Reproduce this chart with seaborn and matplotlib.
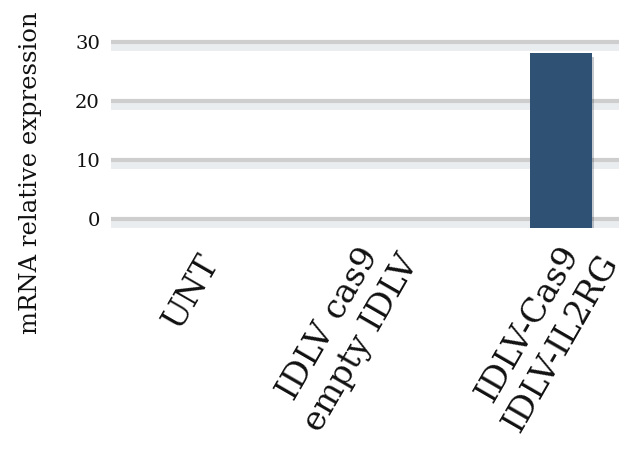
import matplotlib
matplotlib.use("Agg")
import matplotlib.pyplot as plt
import matplotlib.patheffects as pe
from matplotlib.transforms import ScaledTranslation
import seaborn as sns

# Data
categories = ["UNT", "IDLV cas9\nempty IDLV", "IDLV-Cas9\nIDLV-IL2RG"]
values = [0.0, 0.0, 28.1]
y_ticks = [0, 10, 20, 30]
y_label = "mRNA relative expression"

AXIS_FLOOR = -1.5

sns.set_theme(style="white")
plt.rcParams["font.family"] = ["DejaVu Serif"]

fig = plt.figure(figsize=(6.19, 4.54), dpi=100)
W, H = 619, 454
ax = fig.add_axes([111 / W, (H - 228) / H, (621 - 111) / W, 192 / H])

# bars rise from the axis floor; empty groups draw nothing
heights = [v - AXIS_FLOOR if v > 0 else 0.0 for v in values]
sns.barplot(x=categories, y=heights, ax=ax, color="#2f5173", saturation=1,
            width=0.31, errorbar=None, bottom=AXIS_FLOOR, linewidth=0)
for bar in ax.patches:
    bar.set_path_effects([
        pe.SimplePatchShadow(offset=(1.5, -3), shadow_rgbFace="#1c2b3a", alpha=0.25),
        pe.Normal(),
    ])

ax.set_xlim(-0.25, 2.3)
ax.set_ylim(AXIS_FLOOR, 31)
ax.set_yticks(y_ticks)
ax.set_yticklabels([str(t) for t in y_ticks], fontsize=14)

ax.grid(axis="y", color="#cecece", linewidth=3.0)
ax.set_axisbelow(True)
for gl in ax.yaxis.get_gridlines():
    gl.set_path_effects([
        pe.SimpleLineShadow(offset=(0, -3.5), shadow_color="#9aa6b5", alpha=0.2,
                            linewidth=5),
        pe.Normal(),
    ])

for s in ax.spines.values():
    s.set_visible(False)
ax.tick_params(axis="both", length=0)
ax.tick_params(axis="y", pad=8, colors="#111111")
ax.tick_params(axis="x", pad=27)

# labels hang from the right end of their last line
ax.set_xticks(range(len(categories)))
ax.set_xticklabels(categories, rotation=60, ha="right", va="bottom",
                   rotation_mode="anchor", fontsize=24, multialignment="center",
                   linespacing=1.25, color="#111111")
shift = ScaledTranslation(64 / 100, 0, fig.dpi_scale_trans)
for lab in ax.get_xticklabels():
    lab.set_transform(lab.get_transform() + shift)

ax.set_xlabel("")
ax.set_ylabel(y_label, fontsize=17.5, color="#111111")
ax.yaxis.set_label_coords(-0.135, 0.29)

fig.savefig("out.png", dpi=100, facecolor="white")
